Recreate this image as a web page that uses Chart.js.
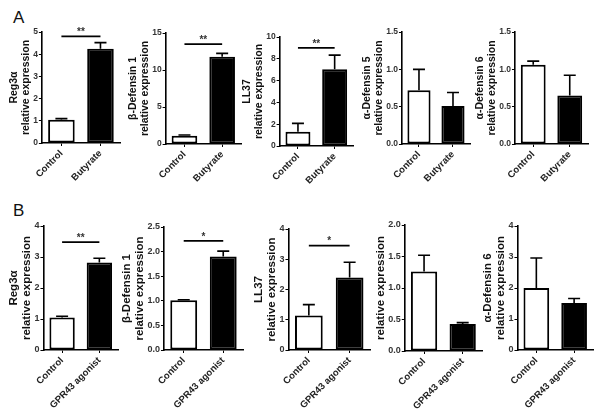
<!DOCTYPE html>
<html lang="en">
<head>
<meta charset="UTF-8">
<title>Relative expression panels</title>
<script src="https://cdn.jsdelivr.net/npm/chart.js"></script>
<style>
    body {
        margin: 0;
        background: #fff;
        font-family: "Liberation Sans", Arial, sans-serif;
    }
    #figure {
        position: relative;
        width: 601px;
        height: 417px;
        overflow: hidden;
    }
    .panel {
        position: absolute;
    }
    .letter {
        position: absolute;
        font-size: 17px;
        color: #111;
    }
</style>
</head>
<body>
<div id="figure">
    <div class="letter" style="left:13px; top:8px;">A</div>
    <div class="letter" style="left:13px; top:201px;">B</div>
</div>

<script>
// Panel data, A row (Butyrate) then B row (GPR43 agonist)
const groupsA = ['Control', 'Butyrate'];
const groupsB = ['Control', 'GPR43 agonist'];
const yTitles = [
    ['Reg3α', 'relative expression'],
    ['β-Defensin 1', 'relative expression'],
    ['LL37', 'relative expression'],
    ['α-Defensin 5', 'relative expression'],
    ['α-Defensin 6', 'relative expression'],
    ['Reg3α', 'relative expression'],
    ['β-Defensin 1', 'relative expression'],
    ['LL37', 'relative expression'],
    ['relative expression'],
    ['α-Defensin 6', 'relative expression']
];
const controlMean = [1.05, 1.1, 1.31, 0.72, 1.06, 1.05, 1.01, 1.14, 1.26, 2.0];
const controlErr  = [0.05, 0.12, 0.77, 0.28, 0.05, 0.04, 0.01, 0.36, 0.26, 0.97];
const treatedMean = [4.25, 11.8, 7.05, 0.51, 0.65, 2.82, 1.9, 2.4, 0.43, 1.52];
const treatedErr  = [0.27, 0.45, 1.29, 0.18, 0.27, 0.14, 0.11, 0.5, 0.02, 0.14];
const sigLevel = [4.8, 13.5, 9.0, null, null, 3.48, 2.22, 3.45, null, null];
const sigStars = ['**', '**', '**', '', '', '**', '*', '*', '', ''];
const yMax  = [5, 15, 10, 1.5, 1.5, 4, 2.5, 4, 2.0, 4];
const yStep = [1, 5, 2, 0.5, 0.5, 1, 0.5, 1, 0.5, 1];
const yDecimals = [0, 0, 0, 1, 1, 0, 1, 0, 1, 0];

// where each panel's axes sit on the page: y-axis x, top of y range, zero line, end of x-axis
const axisX  = [42, 166, 280, 402, 515, 43, 164, 288, 405, 517];
const axisTop = [32, 33, 37, 32, 32, 226, 227, 229, 225, 226];
const axisBottom = [143, 144, 146, 144, 144, 350, 350, 350, 351, 350];
const axisRight = [120, 241, 353, 470, 588, 118, 243, 370, 482, 593];

const FONT = '"Liberation Sans", Arial, sans-serif';
const X_HEIGHT = 68;
const PAD_TOP = 10;

// error bars (upper only) and significance bracket
const annotations = {
    id: 'annotations',
    afterDatasetsDraw(chart, args, opts) {
        const ctx = chart.ctx;
        const y = chart.scales.y;
        const bars = chart.getDatasetMeta(0).data;
        ctx.save();
        ctx.strokeStyle = '#000';
        ctx.lineWidth = 1.6;
        opts.means.forEach((m, i) => {
            const x = bars[i].x;
            const y0 = y.getPixelForValue(m);
            const y1 = y.getPixelForValue(m + opts.errs[i]);
            ctx.beginPath();
            ctx.moveTo(x, y0);
            ctx.lineTo(x, y1);
            ctx.moveTo(x - 6, y1);
            ctx.lineTo(x + 6, y1);
            ctx.stroke();
        });
        if (opts.sig != null) {
            const ys = y.getPixelForValue(opts.sig);
            ctx.beginPath();
            ctx.lineWidth = 1.8;
            ctx.moveTo(bars[0].x, ys);
            ctx.lineTo(bars[1].x, ys);
            ctx.stroke();
            ctx.fillStyle = '#333';
            ctx.font = 'bold 10px ' + FONT;
            ctx.textAlign = 'center';
            ctx.textBaseline = 'bottom';
            ctx.fillText(opts.stars, (bars[0].x + bars[1].x) / 2, ys + 1);
        }
        ctx.restore();
    }
};

const figure = document.getElementById('figure');

for (let i = 0; i < 10; i++) {
    const top = axisTop[i] - PAD_TOP;
    const height = axisBottom[i] - top + X_HEIGHT;
    let left = axisX[i] - 50;

    const box = document.createElement('div');
    box.className = 'panel';
    box.style.left = left + 'px';
    box.style.top = top + 'px';
    box.style.width = (axisRight[i] - left + 1) + 'px';
    box.style.height = height + 'px';
    const canvas = document.createElement('canvas');
    box.appendChild(canvas);
    figure.appendChild(box);

    const labels = i < 5 ? groupsA : groupsB;
    const titleSize = i < 5 ? 10.5 : 11.5;
    const tickSize = i < 5 ? 8.5 : 9;

    const chart = new Chart(canvas, {
        type: 'bar',
        data: {
            labels: labels,
            datasets: [{
                data: [controlMean[i], treatedMean[i]],
                backgroundColor: ['#ffffff', '#000000'],
                borderColor: '#000000',
                borderWidth: 2,
                borderSkipped: false,
                barPercentage: 0.68,
                categoryPercentage: 1.0
            }]
        },
        options: {
            responsive: true,
            maintainAspectRatio: false,
            animation: false,
            events: [],
            layout: { padding: { top: PAD_TOP, right: 1, left: 0, bottom: 0 } },
            plugins: {
                legend: { display: false },
                tooltip: { enabled: false },
                annotations: {
                    means: [controlMean[i], treatedMean[i]],
                    errs: [controlErr[i], treatedErr[i]],
                    sig: sigLevel[i],
                    stars: sigStars[i]
                }
            },
            scales: {
                x: {
                    offset: true,
                    grid: { display: true, offset: false, drawOnChartArea: false, drawTicks: true, tickLength: 3, color: '#000', lineWidth: 1 },
                    border: { display: true, color: '#000', width: 1.6 },
                    ticks: {
                        minRotation: 45,
                        maxRotation: 45,
                        autoSkip: false,
                        padding: 2,
                        color: '#222',
                        font: { family: FONT, size: 9.5, weight: 'bold' }
                    },
                    afterFit(scale) { scale.height = X_HEIGHT; }
                },
                y: {
                    min: 0,
                    max: yMax[i],
                    grid: { display: true, drawOnChartArea: false, drawTicks: true, tickLength: 3, color: '#000', lineWidth: 1 },
                    border: { display: true, color: '#000', width: 1.6 },
                    ticks: {
                        stepSize: yStep[i],
                        padding: 1,
                        color: '#333',
                        font: { family: FONT, size: tickSize, weight: 'bold' },
                        callback: (v) => Number(v).toFixed(yDecimals[i])
                    },
                    title: {
                        display: true,
                        text: yTitles[i],
                        color: '#111',
                        padding: { top: 0, bottom: 0 },
                        font: { family: FONT, size: titleSize, weight: 'bold', lineHeight: 1.15 }
                    }
                }
            }
        },
        plugins: [annotations]
    });

    // shift the panel so the y axis lands where it sits in the figure
    left = axisX[i] - Math.round(chart.chartArea.left);
    box.style.left = left + 'px';
    box.style.width = (axisRight[i] - left + 1) + 'px';
    chart.resize();
}
</script>
</body>
</html>
